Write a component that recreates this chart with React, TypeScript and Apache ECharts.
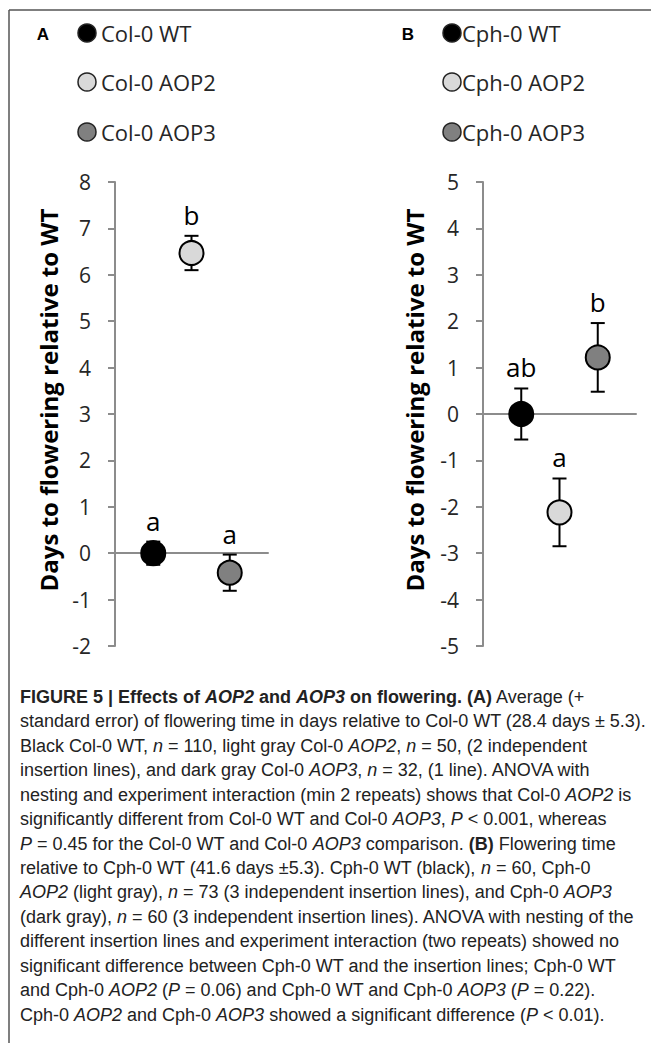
import React, { useEffect, useRef } from "react";
import * as echarts from "echarts";

// ---- Data ----
const categoriesA = ["Col-0 WT", "Col-0 AOP2", "Col-0 AOP3"];
const meansA = [0, 6.47, -0.42];
const errorsA = [0.25, 0.37, 0.39];
const lettersA = ["a", "b", "a"];

const categoriesB = ["Cph-0 WT", "Cph-0 AOP2", "Cph-0 AOP3"];
const meansB = [0, -2.12, 1.22];
const errorsB = [0.55, 0.73, 0.74];
const lettersB = ["ab", "a", "b"];

const fills = ["#000000", "#d9d9d9", "#808080"];
const yRangeA = [-2, 8];
const yRangeB = [-5, 5];
const axisTitle = "Days to flowering relative to WT";

const captionLines = [
  "{b|FIGURE 5 | Effects of }{bi|AOP2}{b| and }{bi|AOP3}{b| on flowering. (A)} Average (+",
  "standard error) of flowering time in days relative to Col-0 WT (28.4 days ± 5.3).",
  "Black Col-0 WT, {i|n} = 110, light gray Col-0 {i|AOP2}, {i|n} = 50, (2 independent",
  "insertion lines), and dark gray Col-0 {i|AOP3}, {i|n} = 32, (1 line). ANOVA with",
  "nesting and experiment interaction (min 2 repeats) shows that Col-0 {i|AOP2} is",
  "significantly different from Col-0 WT and Col-0 {i|AOP3}, {i|P} < 0.001, whereas",
  "{i|P} = 0.45 for the Col-0 WT and Col-0 {i|AOP3} comparison. {b|(B)} Flowering time",
  "relative to Cph-0 WT (41.6 days ±5.3). Cph-0 WT (black), {i|n} = 60, Cph-0",
  "{i|AOP2} (light gray), {i|n} = 73 (3 independent insertion lines), and Cph-0 {i|AOP3}",
  "(dark gray), {i|n} = 60 (3 independent insertion lines). ANOVA with nesting of the",
  "different insertion lines and experiment interaction (two repeats) showed no",
  "significant difference between Cph-0 WT and the insertion lines; Cph-0 WT",
  "and Cph-0 {i|AOP2} ({i|P} = 0.06) and Cph-0 WT and Cph-0 {i|AOP3} ({i|P} = 0.22).",
  "Cph-0 {i|AOP2} and Cph-0 {i|AOP3} showed a significant difference ({i|P} < 0.01).",
];

const CAL = "'Open Sans', 'Noto Sans', sans-serif";
const CAP = "'Liberation Sans Narrow', 'Liberation Sans', Arial, sans-serif";
const AXIS_GRAY = "#8c8c8c";

function makeErrorSeries(idx: number, means: number[], errs: number[], letters: string[]) {
  return {
    type: "custom",
    xAxisIndex: idx,
    yAxisIndex: idx,
    z: 2,
    encode: { x: 0, y: 1 },
    data: means.map((m, i) => [i + 1, m, errs[i]]),
    renderItem: (params: any, api: any) => {
      const x = api.value(0);
      const y = api.value(1);
      const e = api.value(2);
      const top = api.coord([x, y + e]);
      const bot = api.coord([x, y - e]);
      const cap = 7;
      const ls = { stroke: "#000", lineWidth: 2 };
      return {
        type: "group",
        children: [
          { type: "line", shape: { x1: top[0], y1: top[1], x2: bot[0], y2: bot[1] }, style: ls },
          { type: "line", shape: { x1: top[0] - cap, y1: top[1], x2: top[0] + cap, y2: top[1] }, style: ls },
          { type: "line", shape: { x1: bot[0] - cap, y1: bot[1], x2: bot[0] + cap, y2: bot[1] }, style: ls },
          {
            type: "text",
            x: top[0],
            y: top[1] - 21,
            style: {
              text: letters[params.dataIndex],
              align: "center",
              verticalAlign: "middle",
              font: `26px ${CAL}`,
              fill: "#000",
            },
          },
        ],
      };
    },
  };
}

function makeScatter(idx: number, means: number[]) {
  return {
    type: "scatter",
    xAxisIndex: idx,
    yAxisIndex: idx,
    z: 3,
    symbol: "circle",
    symbolSize: 24,
    data: means.map((m, i) => ({
      value: [i + 1, m],
      itemStyle: { color: fills[i], borderColor: "#000", borderWidth: 2, opacity: 1 },
    })),
  };
}

function yAxisCfg(idx: number, range: number[]) {
  return {
    type: "value",
    gridIndex: idx,
    min: range[0],
    max: range[1],
    interval: 1,
    axisLine: { show: true, lineStyle: { color: AXIS_GRAY, width: 2 } },
    axisTick: { show: true, length: 7, lineStyle: { color: AXIS_GRAY, width: 2 } },
    axisLabel: { margin: 24, fontSize: 21, fontFamily: CAL, color: "#262626" },
    splitLine: { show: false },
  };
}

function xAxisCfg(idx: number) {
  return {
    type: "value",
    gridIndex: idx,
    min: 0,
    max: 4,
    axisLine: { show: true, onZero: true, lineStyle: { color: AXIS_GRAY, width: 2 } },
    axisTick: { show: false },
    axisLabel: { show: false },
    splitLine: { show: false },
  };
}

function legendGraphics(cats: string[], letter: string, letterX: number, cx: number, tx: number) {
  const rows = [33, 82, 132];
  const els: any[] = [
    {
      type: "text",
      x: letterX,
      y: rows[0] + 1,
      style: { text: letter, font: `bold 17px 'Liberation Sans', Arial, sans-serif`, fill: "#000", align: "center", verticalAlign: "middle" },
    },
  ];
  cats.forEach((c, i) => {
    els.push({
      type: "circle",
      shape: { cx, cy: rows[i], r: 9 },
      style: { fill: fills[i], stroke: "#222", lineWidth: 1.5 },
    });
    els.push({
      type: "text",
      x: tx,
      y: rows[i],
      style: { text: c, font: `22px ${CAL}`, fill: "#262626", align: "left", verticalAlign: "middle" },
    });
  });
  return els;
}

export default function App() {
  const ref = useRef<HTMLDivElement>(null);
  useEffect(() => {
    document.body.style.margin = "0";
    const chart = echarts.init(ref.current!, null, { renderer: "svg" });
    const rich = {
      b: { font: `bold 18px ${CAP}`, fill: "#222" },
      bi: { font: `italic bold 18px ${CAP}`, fill: "#222" },
      i: { font: `italic 18px ${CAP}`, fill: "#222" },
    };
    const caption = captionLines.map((line, i) => ({
      type: "text",
      x: 20,
      y: 697 + 24.43 * i,
      style: {
        text: line,
        font: `18px ${CAP}`,
        fill: "#222",
        align: "left",
        verticalAlign: "middle",
        rich,
      },
    }));
    chart.setOption({
      animation: false,
      grid: [
        { left: 115, top: 182, width: 153, height: 464 },
        { left: 483, top: 182, width: 153, height: 464 },
      ],
      xAxis: [xAxisCfg(0), xAxisCfg(1)],
      yAxis: [yAxisCfg(0, yRangeA), yAxisCfg(1, yRangeB)],
      series: [
        makeErrorSeries(0, meansA, errorsA, lettersA),
        makeScatter(0, meansA),
        makeErrorSeries(1, meansB, errorsB, lettersB),
        makeScatter(1, meansB),
      ],
      graphic: [
        { type: "line", shape: { x1: 9, y1: 10, x2: 651, y2: 10 }, style: { stroke: "#555", lineWidth: 1.5 } },
        { type: "line", shape: { x1: 9, y1: 10, x2: 9, y2: 1043 }, style: { stroke: "#555", lineWidth: 1.5 } },
        ...legendGraphics(categoriesA, "A", 43, 87, 101),
        ...legendGraphics(categoriesB, "B", 408, 452, 462),
        {
          type: "text",
          x: 48,
          y: 400,
          rotation: Math.PI / 2,
          style: { text: axisTitle, font: `bold 24px ${CAL}`, fill: "#000", align: "center", verticalAlign: "middle" },
        },
        {
          type: "text",
          x: 414,
          y: 400,
          rotation: Math.PI / 2,
          style: { text: axisTitle, font: `bold 24px ${CAL}`, fill: "#000", align: "center", verticalAlign: "middle" },
        },
        ...caption,
      ],
    });
    return () => chart.dispose();
  }, []);
  return <div ref={ref} style={{ width: 651, height: 1043 }} />;
}
